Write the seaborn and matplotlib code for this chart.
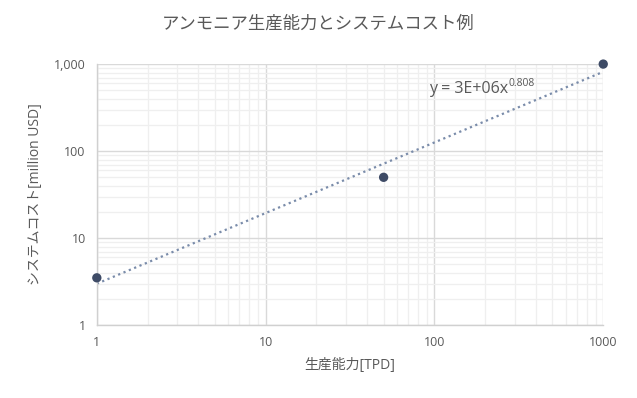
import numpy as np
import pandas as pd
import matplotlib
matplotlib.use("Agg")
import matplotlib.pyplot as plt
import matplotlib.ticker as mticker
import seaborn as sns

# Data
capacity_tpd = [1, 50, 1000]
system_cost = [3.5, 50, 1000]
title = "アンモニア生産能力とシステムコスト例"
xlabel = "生産能力[TPD]"
ylabel = "システムコスト[million USD]"
eq_label = "y = 3E+06x"
eq_exp = "0.808"

sns.set_theme(style="white")
plt.rcParams['font.family'] = ['Open Sans', 'Noto Sans CJK JP', 'DejaVu Sans']

TXT = "#595959"
df = pd.DataFrame({"x": capacity_tpd, "y": system_cost})

# Power-law trend fitted in log-log space
slope, icpt = np.polyfit(np.log10(df["x"]), np.log10(df["y"]), 1)
xt = np.logspace(0, 3, 200)
trend = pd.DataFrame({"x": xt, "y": 10 ** icpt * xt ** slope})

fig = plt.figure(figsize=(6.37, 3.98), dpi=100)
ax = fig.add_axes([0.152, 0.183, 0.795, 0.656])
ax.set_xscale("log")
ax.set_yscale("log")
ax.set_xlim(1, 1000)
ax.set_ylim(1, 1000)

ax.grid(which="minor", color="#EFEFEF", linewidth=0.9)
ax.grid(which="major", color="#D9D9D9", linewidth=1.0)
ax.set_axisbelow(True)

sns.lineplot(data=trend, x="x", y="y", ax=ax, color="#7A8CAA",
             linestyle=(0, (1, 1.6)), linewidth=1.6, legend=False)
sns.scatterplot(data=df, x="x", y="y", ax=ax, color="#3E4B66", s=45,
                edgecolor="none", zorder=5, clip_on=False, legend=False)

for s in ["top", "right"]:
    ax.spines[s].set_visible(False)
for s in ["left", "bottom"]:
    ax.spines[s].set_color("#D0D0D0")
    ax.spines[s].set_linewidth(1.0)

ax.xaxis.set_major_formatter(mticker.FuncFormatter(lambda v, p: f"{v:g}"))
ax.yaxis.set_major_formatter(mticker.FuncFormatter(lambda v, p: f"{v:,.0f}"))
ax.xaxis.set_minor_formatter(mticker.NullFormatter())
ax.yaxis.set_minor_formatter(mticker.NullFormatter())
ax.tick_params(axis="both", which="major", labelsize=9, colors=TXT, length=0, pad=8)
ax.tick_params(axis="x", which="minor", direction="in", length=4, color="#D0D0D0")
ax.tick_params(axis="y", which="minor", length=0)

ax.set_xlabel(xlabel, fontsize=10, color=TXT, labelpad=6)
ax.set_ylabel(ylabel, fontsize=10, color=TXT, labelpad=8)
fig.suptitle(title, fontsize=12.5, color=TXT, y=0.96)

t1 = ax.text(0.655, 0.905, eq_label, transform=ax.transAxes, fontsize=11.5,
             color=TXT, ha="left", va="center")
fig.canvas.draw()
bb = t1.get_window_extent(renderer=fig.canvas.get_renderer())
fig.text((bb.x1 + 0.5) / fig.bbox.width, (bb.y1 - 3) / fig.bbox.height, eq_exp,
         fontsize=7.5, color=TXT, ha="left", va="center")

fig.savefig("out.png", dpi=100)
